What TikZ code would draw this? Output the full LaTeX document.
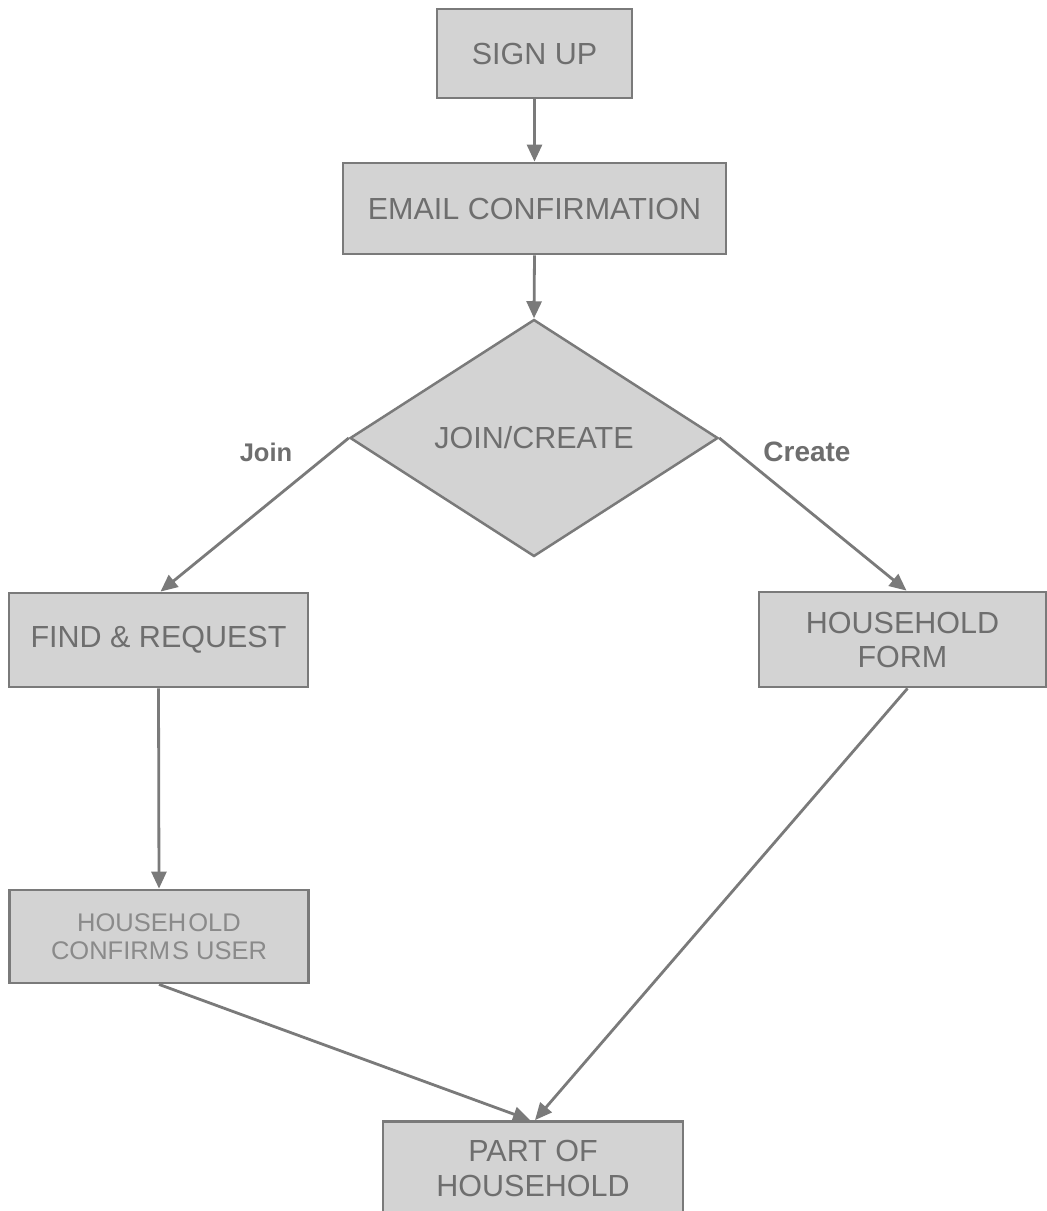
\documentclass[tikz,border=0pt]{standalone}
\usepackage{fontspec}
\setmainfont{Liberation Sans}
\usetikzlibrary{shapes.geometric,arrows.meta}
\definecolor{edgegray}{HTML}{7A7A7A}
\definecolor{boxfill}{HTML}{D3D3D3}
\definecolor{txtgray}{HTML}{6E6E6E}
\definecolor{lighttxt}{HTML}{8A8A8A}
\begin{document}
\begin{tikzpicture}[x=1pt,y=-1pt,
 box/.style={draw=edgegray,fill=boxfill,line width=2.8pt,inner sep=0pt,text=txtgray,font=\fontsize{30.5}{34}\selectfont,align=center},
 decision/.style={diamond,draw=edgegray,fill=boxfill,line width=2.5pt,inner sep=0pt,text=txtgray,font=\fontsize{30.5}{34}\selectfont},
 conn/.style={draw=edgegray,line width=2.8pt,-{Triangle[length=17pt,width=15pt]}},
 lbl/.style={text=txtgray,font=\fontsize{27}{32}\selectfont\bfseries}]
\useasboundingbox (0,0) rectangle (1047,1211);
\fill[white] (0,0) rectangle (1047,1211);
\node[box,minimum width=195pt,minimum height=89pt] (signup) at (534.5,53.5) {SIGN UP};
\node[box,minimum width=383pt,minimum height=91pt] (email) at (534.5,208.5) {EMAIL CONFIRMATION};
\node[decision,minimum width=368pt,minimum height=237pt] (jc) at (534,438) {JOIN/CREATE};
\node[box,minimum width=299pt,minimum height=94pt] (find) at (158.5,640) {FIND \& REQUEST};
\node[box,minimum width=287pt,minimum height=95pt] (hf) at (902.5,639.5) {HOUSEHOLD\\FORM};
\node[box,minimum width=299pt,minimum height=93pt,text=lighttxt,font=\fontsize{25.5}{28}\selectfont] (hcu) at (159,936.5) {HOUSEH\kern2pt OLD\\CONFIRM\kern2pt S USER};
\node[box,minimum width=300pt,minimum height=93pt,font=\fontsize{30.5}{35}\selectfont] (part) at (533,1168) {PART OF\\HOUSEHOLD};
\node[lbl,font=\fontsize{25.5}{30}\selectfont\bfseries] (joinlbl) at (266,452) {Join};
\node[lbl,font=\fontsize{28}{32}\selectfont\bfseries] (createlbl) at (807,452) {Create};
\draw[conn] (signup.south) -- (email.north);
\draw[conn] (email.south) -- (jc.north);
\draw[conn] (jc.west) -- ([xshift=2pt]find.north);
\draw[conn] (jc.east) -- ([xshift=4pt]hf.north);
\draw[conn] (find.south) -- (hcu.north);
\draw[conn] (hcu.south) -- ([xshift=-3pt]part.north);
\draw[conn] ([xshift=5pt]hf.south) -- ([xshift=2pt]part.north);
\end{tikzpicture}
\end{document}
